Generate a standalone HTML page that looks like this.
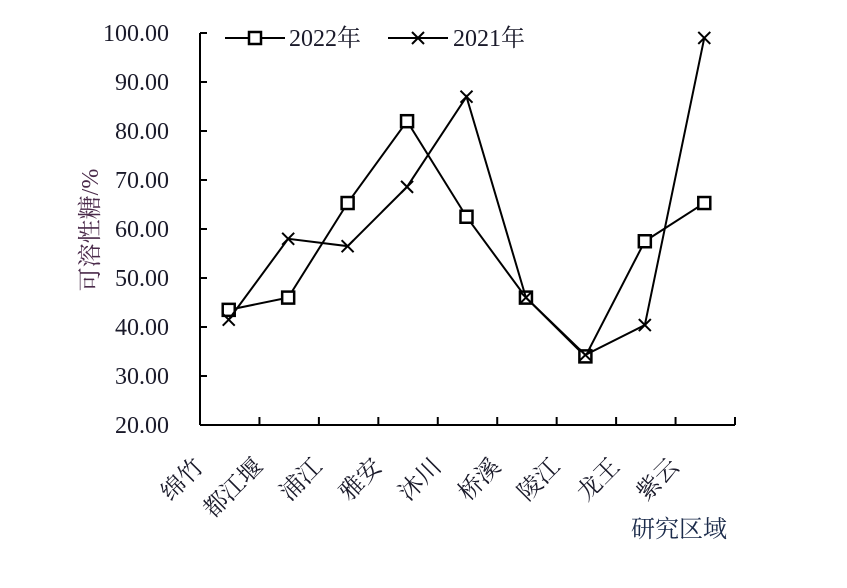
<!DOCTYPE html>
<html><head><meta charset="utf-8"><style>
body{margin:0;background:#fff}
text{font-family:"Liberation Serif","Noto Serif CJK SC",serif;fill:#1a1a2a}
</style></head><body>
<svg width="847" height="583" xmlns="http://www.w3.org/2000/svg">
<g id="g"></g>
</svg>
<script>
const categories=["绵竹","都江堰","浦江","雅安","沐川","桥溪","陵江","龙王","紫云"];
const s2022=[43.5,46,65.3,82,62.5,46,34,57.5,65.3];
const s2021=[41.5,58,56.5,68.6,87,46,34.3,40.4,99];
const yTicks=[20,30,40,50,60,70,80,90,100];
const NS="http://www.w3.org/2000/svg";
const g=document.getElementById('g');
const x0=200,x1=735,yTop=33,yBot=425;
const bw=(x1-x0)/categories.length;
const X=i=>x0+bw*(i+0.5)-1;
const Y=v=>yBot-(v-20)/80*(yBot-yTop);
function mk(t,a){const e=document.createElementNS(NS,t);for(const k in a)e.setAttribute(k,a[k]);g.appendChild(e);return e;}
let e;
e=mk('line',{x1:x0,y1:yTop,x2:x0,y2:yBot,stroke:'#000','stroke-width':2});


e=mk('line',{x1:x0,y1:yBot,x2:x1,y2:yBot,stroke:'#000','stroke-width':2});


yTicks.forEach(v=>{
 e=mk('line',{x1:x0,y1:Y(v),x2:x0+7,y2:Y(v),stroke:'#000','stroke-width':2});
 
 
 e=mk('text',{x:x0-31,y:Y(v)+8,'text-anchor':'end','font-size':24});
 e.textContent=v.toFixed(2);
 
 
});
for(let i=0;i<=categories.length;i++){
 e=mk('line',{x1:x0+bw*i,y1:yBot,x2:x0+bw*i,y2:yBot-8,stroke:'#000','stroke-width':2});
 
 
}
categories.forEach((c,i)=>{
 const cx=X(i)-24,cy=468;
 e=mk('text',{x:cx,y:cy,'text-anchor':'end','font-size':24,transform:`rotate(-45 ${cx} ${cy})`});
 e.textContent=c;
 
 
});
e=mk('text',{x:0,y:0,'text-anchor':'middle','font-size':24,transform:'translate(98 230) rotate(-90)'});
e.textContent='可溶性糖/%';e.style.fill='#4a2a4a';


e=mk('text',{x:727,y:537,'text-anchor':'end','font-size':24});
e.textContent='研究区域';e.style.fill='#1a2a4a';


function path(arr){return arr.map((v,i)=>(i?'L':'M')+X(i)+' '+Y(v)).join(' ');}
e=mk('path',{d:path(s2022),fill:'none',stroke:'#000','stroke-width':2});


s2022.forEach((v,i)=>{
 e=mk('rect',{x:X(i)-6,y:Y(v)-6,width:12,height:12,fill:'#fff',stroke:'#000','stroke-width':2.5});
 
 
});
e=mk('path',{d:path(s2021),fill:'none',stroke:'#000','stroke-width':2});


s2021.forEach((v,i)=>{
 const x=X(i),y=Y(v);
 e=mk('path',{d:`M${x-6} ${y-6}L${x+6} ${y+6}M${x-6} ${y+6}L${x+6} ${y-6}`,stroke:'#000','stroke-width':2});
 
 
});
e=mk('line',{x1:225,y1:38,x2:285,y2:38,stroke:'#000','stroke-width':2});


e=mk('rect',{x:249,y:32,width:12,height:12,fill:'#fff',stroke:'#000','stroke-width':2.5});


e=mk('text',{x:289,y:46,'font-size':24});e.textContent='2022年';


e=mk('line',{x1:388,y1:38,x2:448,y2:38,stroke:'#000','stroke-width':2});


e=mk('path',{d:'M412 32L424 44M412 44L424 32',stroke:'#000','stroke-width':2});


e=mk('text',{x:453,y:46,'font-size':24});e.textContent='2021年';


</script>
</body></html>
